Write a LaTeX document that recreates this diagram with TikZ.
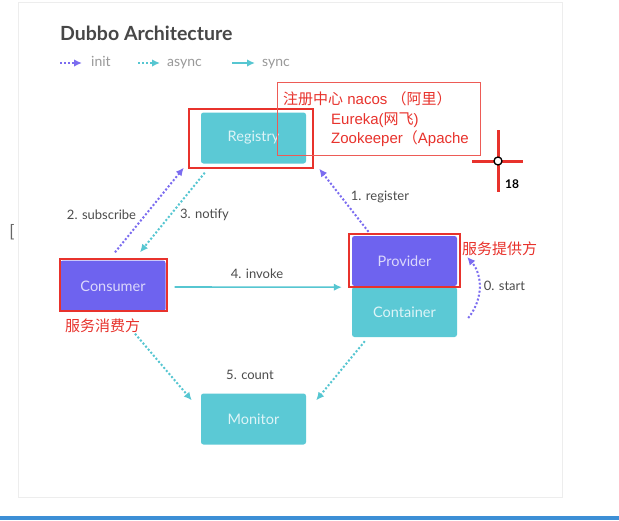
\documentclass[tikz,border=0pt]{standalone}
\usepackage{fontspec}
\setmainfont{Lato}
\newfontfamily\cjk{Noto Sans CJK SC}
\newfontfamily\arialf{Liberation Sans}
\usetikzlibrary{arrows.meta}
\definecolor{boxteal}{HTML}{5BC9D5}
\definecolor{boxviolet}{HTML}{6E63EF}
\definecolor{initc}{HTML}{7B6CF0}
\definecolor{asyncc}{HTML}{56C6D1}
\definecolor{markred}{HTML}{E8322C}
\definecolor{labgray}{HTML}{4C4C4C}
\definecolor{barblue}{HTML}{3D8FD6}

\begin{document}
\begin{tikzpicture}
    [x=1pt,y=-1pt,
     box/.style={rectangle,rounded corners=2.5pt,minimum width=105pt,minimum height=51pt,inner sep=0pt,fill=boxteal,text=white!80!boxteal,font=\fontsize{14.5}{16}\selectfont},
     vbox/.style={box,fill=boxviolet,text=white!75!boxviolet},
     lab/.style={text=labgray,inner sep=0pt,font=\fontsize{13}{15}\selectfont},
     leg/.style={text=black!40,inner sep=0pt,anchor=west,text height=10pt,text depth=3pt,font=\fontsize{14}{16}\selectfont},
     note/.style={text=markred,inner sep=0pt,anchor=base west,font=\arialf\fontsize{15}{17}\selectfont},
     redframe/.style={draw=markred,line width=1.2pt},
     init/.style={draw=initc,line width=2pt,dash pattern=on 2pt off 2pt,-{Latex[length=8pt,width=7.5pt]}},
     async/.style={init,draw=asyncc},
     sync/.style={draw=asyncc,line width=1.6pt,-{Latex[length=8pt,width=7.5pt]}}]
    \useasboundingbox (0,0) rectangle (619,520);
    \fill[white] (0,0) rectangle (619,520);
    \draw[black!7,line width=1pt] (18,2) rectangle (562,497);
    \fill[barblue] (0,516) rectangle (619,520);

    \node[anchor=base west,inner sep=0pt,text=black!72,font=\bfseries\fontsize{19.5}{22}\selectfont] (nTitle) at (60,40) {Dubbo Architecture};
    \node[leg] (lInit) at (91,63) {init};
    \node[leg] (lAsync) at (167,63) {async};
    \node[leg] (lSync) at (262,63) {sync};
    \draw[init] ([xshift=-31pt]lInit.west) -- ([xshift=-9pt]lInit.west);
    \draw[async] ([xshift=-29pt]lAsync.west) -- ([xshift=-7pt]lAsync.west);
    \draw[sync] ([xshift=-30pt]lSync.west) -- ([xshift=-7pt]lSync.west);

    \node[box] (nReg) at (253.5,138) {Registry};
    \node[vbox] (nCon) at (113,286) {Consumer};
    \node[vbox,minimum height=50pt] (nPro) at (404.5,261) {Provider};
    \node[box,minimum height=50pt] (nCnt) at (404.5,312) {Container};
    \node[box] (nMon) at (253.5,419) {Monitor};

    \node[lab] (l0) at (504.5,286) {0. start};
    \node[lab] (l1) at (380,197) {1. register};
    \node[lab] (l2) at (101.5,215) {2. subscribe};
    \node[lab] (l3) at (204.5,215) {3. notify};
    \node[lab] (l4) at (257,274) {4. invoke};
    \node[lab] (l5) at (250,375) {5. count};

    \draw[init] ([xshift=11pt,yshift=-6pt]nCnt.east) to[bend right=40] ([xshift=10pt,yshift=4pt]nPro.east);
    \draw[init] ([xshift=-36pt,yshift=4pt]nPro.north) -- ([xshift=13pt,yshift=-5pt]nReg.south east);
    \draw[init] ([xshift=2pt,yshift=8pt]nCon.north) -- ([xshift=-17pt,yshift=-4pt]nReg.south west);
    \draw[async] ([xshift=4pt,yshift=-9pt]nReg.south west) -- ([xshift=27pt,yshift=8pt]nCon.north);
    \draw[sync] ([xshift=9pt,yshift=-1pt]nCon.east) -- ([xshift=-10pt,yshift=-1pt]nPro.south west);
    \draw[async] ([xshift=22pt,yshift=-22pt]nCon.south) -- ([xshift=-9pt,yshift=-7pt]nMon.north west);
    \draw[async] ([xshift=13pt,yshift=-4pt]nCnt.south west) -- ([xshift=10pt,yshift=-7pt]nMon.north east);

    \foreach \xa/\ya/\xb/\yb in {189/109/313/168,60/259/167/311,349/234/460/287}
      \draw[redframe] (\xa,\ya) rectangle (\xb,\yb);
    \draw[draw=markred!80,line width=0.9pt] (277,82) rectangle (480,155);
    \node[note] (tReg) at (283,104) {{\cjk 注册中心} nacos {\cjk （阿里）}};
    \node[note] (tEur) at (331,124) {Eureka({\cjk 网飞})};
    \node[note] (tZoo) at (331,143) {Zookeeper{\cjk （}Apache};
    \node[note,font=\cjk\fontsize{15}{17}\selectfont] (tCon) at (65,331) {服务消费方};
    \node[note,font=\cjk\fontsize{15}{17}\selectfont] (tPro) at (462,254) {服务提供方};

    \draw[markred,line width=3pt] (472,161) -- (523,161) (498,130) -- (498,192);
    \draw[black,line width=1.3pt,fill=white] (498,161) circle (4pt);
    \node[inner sep=0pt,font=\bfseries\fontsize{12}{13}\selectfont] (nNum) at (512,184) {18};
    \node[inner sep=0pt,text=black!60,font=\fontsize{17}{18}\selectfont] (nBr) at (12,232) {[};
\end{tikzpicture}
\end{document}
